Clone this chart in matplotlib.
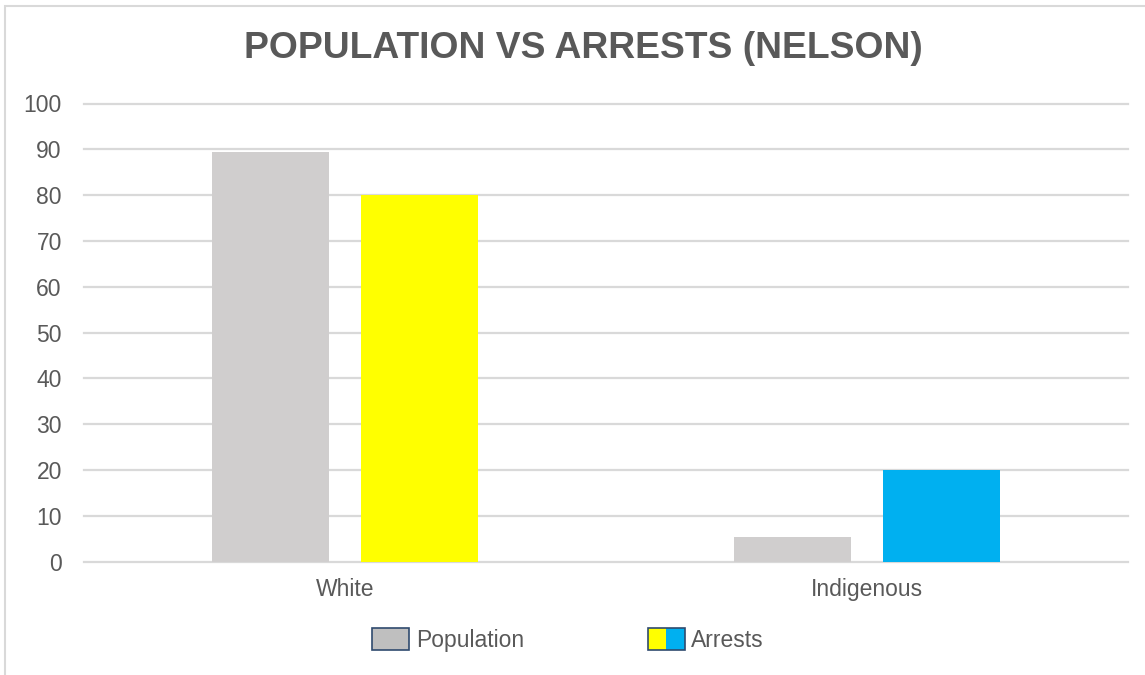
import matplotlib
matplotlib.use("Agg")
import matplotlib.pyplot as plt
import numpy as np
from matplotlib.patches import Rectangle
from matplotlib.legend_handler import HandlerBase

categories = ["White", "Indigenous"]
population = [89.5, 5.3]
arrests = [80, 20]
arrest_colors = ["#FFFF00", "#00B0F0"]
yticks = [0, 10, 20, 30, 40, 50, 60, 70, 80, 90, 100]
title = "POPULATION VS ARRESTS (NELSON)"

TEXT = "#595959"
GRID = "#D9D9D9"
POP_COLOR = "#D0CECE"

plt.rcParams["font.family"] = ["Liberation Sans", "DejaVu Sans"]

fig = plt.figure(figsize=(11.45, 6.75), dpi=100)
ax = fig.add_axes([84 / 1145, 1 - 561.7 / 675, (1128 - 84) / 1145, (561.7 - 103.5) / 675])

# chart frame
fig.patches.append(Rectangle((5 / 1145, -0.1), 1.2, (1 - 6 / 675) + 0.1,
                             transform=fig.transFigure, fill=False,
                             edgecolor=GRID, linewidth=1.5, zorder=0))

x = np.arange(len(categories))
width = 0.225
offset = 0.143
ax.bar(x - offset, population, width, color=POP_COLOR, zorder=3)
ax.bar(x + offset, arrests, width, color=arrest_colors, zorder=3)

ax.set_xlim(-0.5, 1.5)
ax.set_ylim(0, 100)
ax.set_yticks(yticks)
ax.set_xticks(x)
ax.set_xticklabels(categories)
ax.tick_params(axis="both", length=0, labelsize=16.5, labelcolor=TEXT)
ax.tick_params(axis="y", pad=16)
ax.tick_params(axis="x", pad=12)
for s in ax.spines.values():
    s.set_visible(False)
ax.yaxis.grid(True, color=GRID, linewidth=1.6, zorder=0)
for gl in ax.get_ygridlines():
    gl.set_clip_on(False)
ax.set_axisbelow(True)

fig.text(0.5095, 1 - 49 / 675, title, ha="center", va="center",
         fontsize=26.8, fontweight="bold", color=TEXT)


class SplitHandler(HandlerBase):
    def __init__(self, colors):
        super().__init__()
        self.colors = colors

    def create_artists(self, legend, orig_handle, xdescent, ydescent,
                       width, height, fontsize, trans):
        n = len(self.colors)
        arts = []
        for i, c in enumerate(self.colors):
            arts.append(Rectangle((-xdescent + i * width / n, -ydescent), width / n, height,
                                  facecolor=c, edgecolor="none", transform=trans))
        arts.append(Rectangle((-xdescent, -ydescent), width, height, facecolor="none",
                              edgecolor="#2F4A6E", linewidth=1.2, transform=trans))
        return arts


class BoxHandler(HandlerBase):
    def create_artists(self, legend, orig_handle, xdescent, ydescent,
                       width, height, fontsize, trans):
        return [Rectangle((-xdescent, -ydescent), width, height, facecolor="#BFBFBF",
                          edgecolor="#2F4A6E", linewidth=1.2, transform=trans)]


h_pop = Rectangle((0, 0), 1, 1)
h_arr = Rectangle((0, 0), 1, 1)
leg = fig.legend([h_pop, h_arr], ["Population", "Arrests"],
                 handler_map={h_pop: BoxHandler(), h_arr: SplitHandler(arrest_colors)},
                 loc="center", bbox_to_anchor=(568 / 1145, 1 - 640 / 675), ncol=2,
                 frameon=False, fontsize=16.5, handlelength=1.62, handleheight=1.1,
                 handletextpad=0.28, columnspacing=5.4, labelcolor=TEXT)

fig.savefig("out.png", dpi=100, facecolor="white")
